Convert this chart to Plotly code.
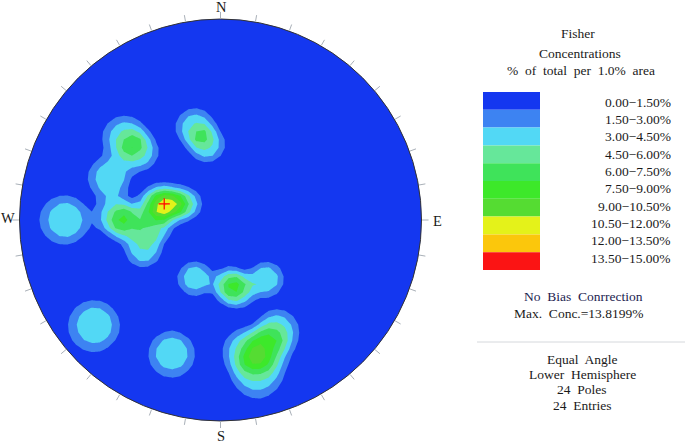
import numpy as np
import plotly.graph_objects as go

# ---------------- data ----------------
# pole positions on the equal-angle net (east, north; unit circle = primitive)
pole_east = [-0.475, -0.405, -0.127, -0.067, -0.550,
             -0.326, -0.281, -0.236, -0.172, -0.321,
             -0.520, -0.455, -0.381, -0.769, -0.127,
             0.042, 0.087, 0.226, -0.624, -0.241,
             0.122, 0.182, 0.227, 0.281]
pole_north = [0.408, 0.338, 0.458, 0.373, 0.209,
              0.075, 0.085, 0.075, 0.080, -0.030,
              0.020, -0.015, -0.144, 0.000, -0.289,
              -0.318, -0.348, -0.294, -0.522, -0.662,
              -0.647, -0.756, -0.637, -0.547]

levels = [0.0, 1.5, 3.0, 4.5, 6.0, 7.5, 9.0, 10.5, 12.0, 13.5, 15.0]
level_colors = ["#1437f0", "#3d83f2", "#52d8f5", "#66e79a", "#3fe35a",
                "#3de82a", "#55dc32", "#e4f21a", "#fbc70c", "#fb1414"]
legend_labels = [f"{levels[i]:.2f}\u2212{levels[i+1]:.2f}%" for i in range(len(levels) - 1)]

compass_labels = ["N", "E", "S", "W"]
title_lines = ["Fisher", "Concentrations", "%\u00a0 of\u00a0 total\u00a0 per\u00a0 1.0%\u00a0 area"]
bias_text = "No\u00a0 Bias\u00a0 Conrrection"
max_text = "Max.\u00a0 Conc.=13.8199%"
info_lines = ["Equal\u00a0 Angle", "Lower\u00a0 Hemisphere", "24\u00a0 Poles", "24\u00a0 Entries"]

# ---------------- geometry helpers (pixel -> data coords) ----------------
CX, CY, R = 220.5, 220.0, 201.0
W, H = 685, 443


def X(px):
    return (px - CX) / R


def Y(py):
    return (CY - py) / R


def to_vec(e, n):
    e = np.asarray(e, float)
    n = np.asarray(n, float)
    r = np.hypot(e, n)
    phi = 2 * np.arctan(r)
    rr = np.where(r > 0, r, 1)
    ue = np.where(r > 0, e / rr, 0)
    un = np.where(r > 0, n / rr, 0)
    return np.stack([np.sin(phi) * ue, np.sin(phi) * un, -np.cos(phi)], axis=-1)


# ---------------- density (spherical kernel) ----------------
g = np.linspace(-1.08, 1.08, 55)
GE, GN = np.meshgrid(g, g)
gv = to_vec(GE, GN)
pv = to_vec(pole_east, pole_north)
peak, s = 4.3, np.radians(8.65)
dens = np.zeros_like(GE)
for p in pv:
    d = np.abs(np.clip(gv @ p, -1, 1))
    th = np.arccos(np.clip(d, -1, 1))
    dens += peak * np.exp(-(th / s) ** 3)

# discrete colorscale
cs = []
nb = len(level_colors)
for i, c in enumerate(level_colors):
    cs.append([i / nb, c])
    cs.append([(i + 1) / nb, c])

fig = go.Figure()
fig.add_trace(go.Contour(
    x=g, y=g, z=dens, zmin=levels[0], zmax=levels[-1],
    autocontour=False,
    contours=dict(start=levels[1], end=levels[-2], size=levels[1] - levels[0], coloring="fill", showlines=False),
    colorscale=cs, showscale=False, line=dict(width=0, smoothing=0), hoverinfo="skip"))

# peak marker
im = np.unravel_index(np.argmax(dens), dens.shape)
fig.add_trace(go.Scatter(x=[g[im[1]]], y=[g[im[0]]], mode="markers",
                         marker=dict(symbol="cross-thin", size=8, line=dict(color="#ff0000", width=1.2)),
                         hoverinfo="skip"))

# mask outside circle
ang = np.linspace(0, 2 * np.pi, 361)
m = 1.2
path = f"M {-m},{-m} L {m},{-m} L {m},{m} L {-m},{m} Z M " + " L ".join(
    f"{np.cos(a):.5f},{np.sin(a):.5f}" for a in ang) + " Z"
shapes = [dict(type="path", path=path, fillcolor="white", line=dict(width=0), layer="above", fillrule="evenodd"),
          dict(type="circle", x0=-1, y0=-1, x1=1, y1=1, line=dict(color="#333333", width=1), layer="above")]

# ticks every 10 degrees
for a in range(0, 360, 10):
    t = np.radians(a)
    shapes.append(dict(type="line", x0=np.sin(t) * 1.003, y0=np.cos(t) * 1.003, x1=np.sin(t) * 1.035,
                       y1=np.cos(t) * 1.035, line=dict(color="#a9b0b8", width=1), layer="above"))

# legend boxes
box_top, box_bot, box_l, box_r = 92, 270, 483, 540
bh = (box_bot - box_top) / nb
for i, c in enumerate(level_colors):
    shapes.append(dict(type="rect", x0=X(box_l), x1=X(box_r), y0=Y(box_top + i * bh), y1=Y(box_top + (i + 1) * bh),
                       fillcolor=c, line=dict(width=0), layer="above"))
shapes.append(dict(type="line", x0=X(477), x1=X(685), y0=Y(342), y1=Y(342), line=dict(color="#d5d8dc", width=1),
                   layer="above"))

serif = "Liberation Serif, Times New Roman, serif"
ann = []


def txt(text, px, py, size=13.5, anchor="center", color="#1a1a1a"):
    ann.append(dict(text=text, x=X(px), y=Y(py), xref="x", yref="y", showarrow=False, xanchor=anchor,
                    yanchor="middle", font=dict(family=serif, size=size, color=color)))


for lab, (px, py) in zip(compass_labels, [(221, 7), (437, 221), (221, 436), (8, 218)]):
    txt(lab, px, py, size=14.5)

txt(title_lines[0], 578, 33)
txt(title_lines[1], 580, 53)
txt(title_lines[2], 581, 70)
lab_y = np.linspace(102, 258, nb)
for lab, py in zip(legend_labels, lab_y):
    txt(lab, 673, py, anchor="right")
txt(bias_text, 583, 296, color="#1c2350")
txt(max_text, 578, 313)
for lab, py in zip(info_lines, [359, 374, 389, 405]):
    txt(lab, 582, py)

fig.update_layout(
    width=W, height=H, margin=dict(l=0, r=0, t=0, b=0),
    paper_bgcolor="white", plot_bgcolor="white", showlegend=False,
    xaxis=dict(range=[X(0), X(W)], visible=False, fixedrange=True),
    yaxis=dict(range=[Y(H), Y(0)], visible=False, fixedrange=True),
    shapes=shapes, annotations=ann)

fig.write_html("out.html", config={"displayModeBar": False},
               post_script="document.body.style.margin='0';document.body.style.padding='0';")
